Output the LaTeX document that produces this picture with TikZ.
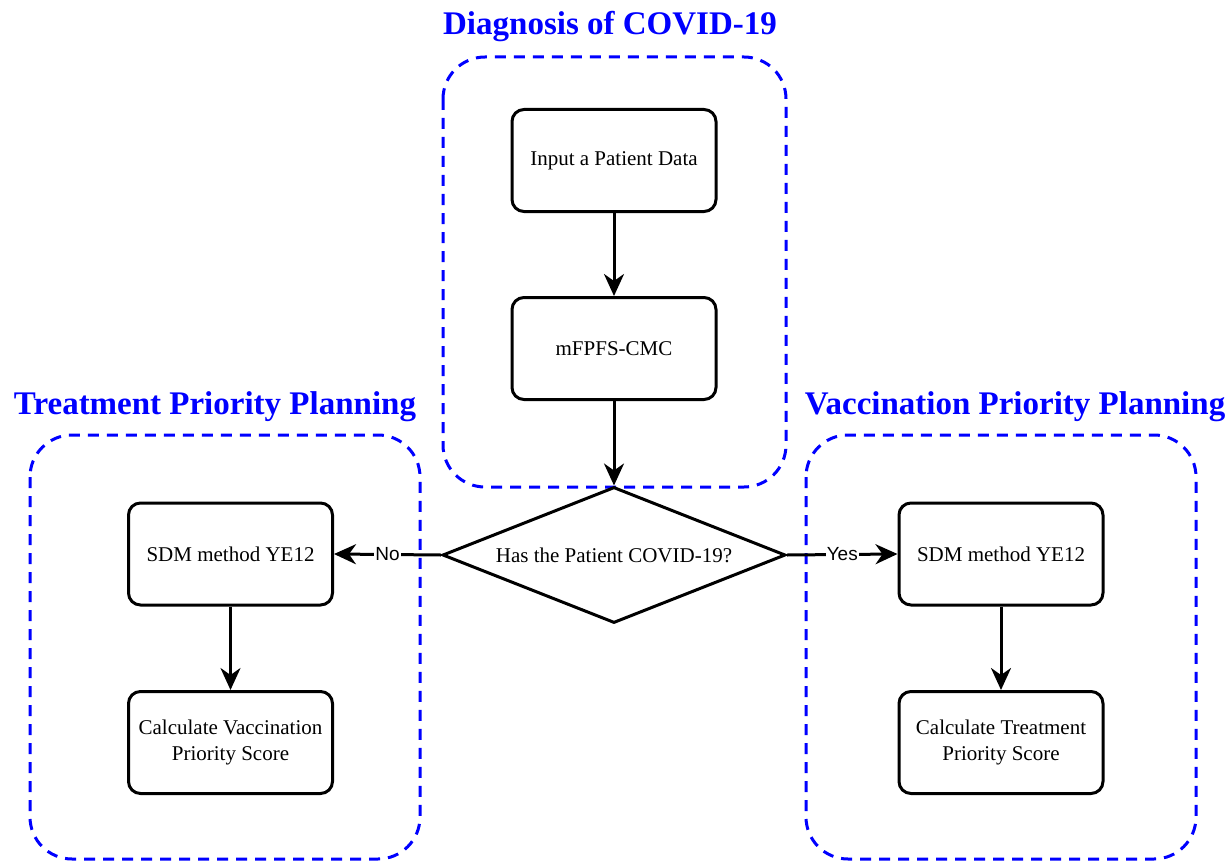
\documentclass[tikz,border=0pt]{standalone}
\usepackage{fontspec}
\setmainfont{Liberation Serif}
\newfontfamily\lsans{Liberation Sans}
\usetikzlibrary{arrows.meta,shapes.geometric}
\definecolor{grpblue}{RGB}{0,0,255}
\tikzset{
  stepbox/.style={draw=black,line width=3pt,rounded corners=12pt,minimum width=204pt,minimum height=102pt,align=center,font=\fontsize{21}{26}\selectfont,inner sep=2pt},
  grp/.style={draw=grpblue,line width=3pt,dash pattern=on 11pt off 8pt,rounded corners=42pt},
  grptitle/.style={text=grpblue,font=\bfseries\fontsize{33}{38}\selectfont},
  conn/.style={line width=3pt,-{Stealth[length=22pt,width=20pt,inset=7pt]}},
  lbl/.style={fill=white,font=\lsans\fontsize{19}{22}\selectfont,inner sep=1pt}
}
\begin{document}
\begin{tikzpicture}[x=1pt,y=-1pt]
\useasboundingbox (0,0) rectangle (1228,861);
% groups
\draw[grp] (443,57) rectangle (786,487);
\draw[grp] (30,435) rectangle (420,859);
\draw[grp] (806,435) rectangle (1196,859);
\node[grptitle] (t1) at (610,27) {Diagnosis of COVID-19};
\node[grptitle] (t2) at (215,407) {Treatment Priority Planning};
\node[grptitle] (t3) at (1015,407) {Vaccination Priority Planning};
% nodes
\node[stepbox] (input) at (614,160.5) {Input a Patient Data};
\node[stepbox] (mf) at (614,348.5) {mFPFS-CMC};
\node[draw=black,line width=3pt,diamond,aspect=2.52,minimum width=343pt,minimum height=136pt,inner sep=0pt,font=\fontsize{21}{26}\selectfont] (dec) at (614,555) {Has the Patient COVID-19?};
\node[stepbox] (sdmL) at (230.5,554) {SDM method YE12};
\node[stepbox] (calcL) at (230.5,742.5) {Calculate Vaccination\\Priority Score};
\node[stepbox] (sdmR) at (1001,554) {SDM method YE12};
\node[stepbox] (calcR) at (1001,742.5) {Calculate Treatment\\Priority Score};
% connectors
\draw[conn] (input) -- (mf);
\draw[conn] (mf) -- (dec);
\draw[conn] (dec.west) -- node[lbl] {No} (sdmL.east);
\draw[conn] (dec.east) -- node[lbl] {Yes} (sdmR.west);
\draw[conn] (sdmL) -- (calcL);
\draw[conn] (sdmR) -- (calcR);
\end{tikzpicture}
\end{document}
